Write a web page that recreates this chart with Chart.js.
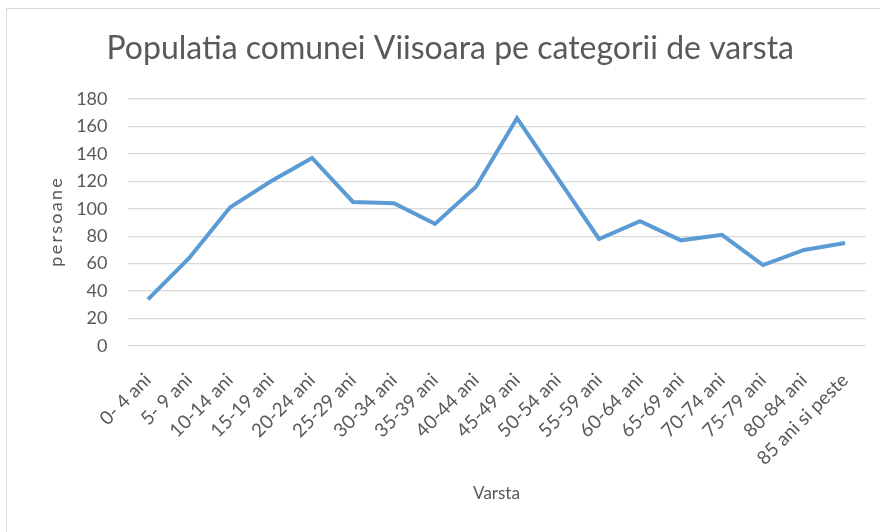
<!DOCTYPE html>
<html>
<head>
<meta charset="utf-8">
<script src="https://cdn.jsdelivr.net/npm/chart.js@4"></script>
<style>
    html, body { margin: 0; padding: 0; background: #fff; }
    #wrap { position: relative; width: 880px; height: 532px; overflow: hidden; }
    #frame {
        position: absolute; left: 6px; top: 8px; width: 900px; height: 560px;
        border: 1px solid #d9d9d9; box-sizing: border-box;
    }
    #chart { position: absolute; left: 0; top: 0; }
</style>
</head>
<body>
<div id="wrap">
    <div id="frame"></div>
    <canvas id="chart" width="880" height="532"></canvas>
</div>
<script>
// Populatia pe categorii de varsta
const ageGroups = ['0- 4 ani', '5- 9 ani', '10-14 ani', '15-19 ani', '20-24 ani', '25-29 ani',
    '30-34 ani', '35-39 ani', '40-44 ani', '45-49 ani', '50-54 ani', '55-59 ani',
    '60-64 ani', '65-69 ani', '70-74 ani', '75-79 ani', '80-84 ani', '85 ani si peste'];
const persons = [34, 64, 101, 120, 137, 105, 104, 89, 116, 166, 122, 78, 91, 77, 81, 59, 70, 75];
const yTicks = [0, 20, 40, 60, 80, 100, 120, 140, 160, 180];

const textColor = '#595959';
const fontFamily = 'Lato, "Open Sans", sans-serif';

new Chart(document.getElementById('chart'), {
    type: 'line',
    data: {
        labels: ageGroups,
        datasets: [{
            label: 'persoane',
            data: persons,
            borderColor: '#5b9bd5',
            borderWidth: 4,
            pointRadius: 0,
            tension: 0,
            fill: false
        }]
    },
    options: {
        responsive: false,
        animation: false,
        // extra left padding so the title centres like the original
        layout: { padding: { left: 35, right: 14.5, top: 10, bottom: 10 } },
        plugins: {
            legend: { display: false },
            tooltip: { enabled: false },
            title: {
                display: true,
                text: 'Populatia comunei Viisoara pe categorii de varsta',
                color: textColor,
                font: { family: fontFamily, size: 32, weight: 'normal' },
                padding: { top: 19, bottom: 31.6 }
            }
        },
        scales: {
            x: {
                offset: true,
                grid: { display: false },
                border: { display: false },
                ticks: {
                    color: textColor,
                    font: { family: fontFamily, size: 19 },
                    maxRotation: 45,
                    minRotation: 45,
                    autoSkip: false,
                    padding: 15
                },
                title: {
                    display: true,
                    text: 'Varsta',
                    color: textColor,
                    font: { family: fontFamily, size: 17 },
                    padding: { top: 4, bottom: 18 }
                },
                afterFit: function(scale) { scale.height = 532 - 346 - 10; }
            },
            y: {
                min: 0,
                max: 180,
                afterBuildTicks: function(scale) {
                    scale.ticks = yTicks.map(v => ({ value: v }));
                },
                grid: { color: '#d9d9d9', lineWidth: 1.3, drawTicks: false },
                border: { display: false },
                ticks: {
                    color: textColor,
                    font: { family: fontFamily, size: 18 },
                    padding: 20
                },
                title: {
                    display: true,
                    text: 'p\u2009e\u2009r\u2009s\u2009o\u2009a\u2009n\u2009e',
                    color: textColor,
                    font: { family: fontFamily, size: 18 },
                    padding: { top: 10, bottom: 0 }
                },
                afterFit: function(scale) { scale.width = 127.5 - 35; }
            }
        }
    }
});
</script>
</body>
</html>
